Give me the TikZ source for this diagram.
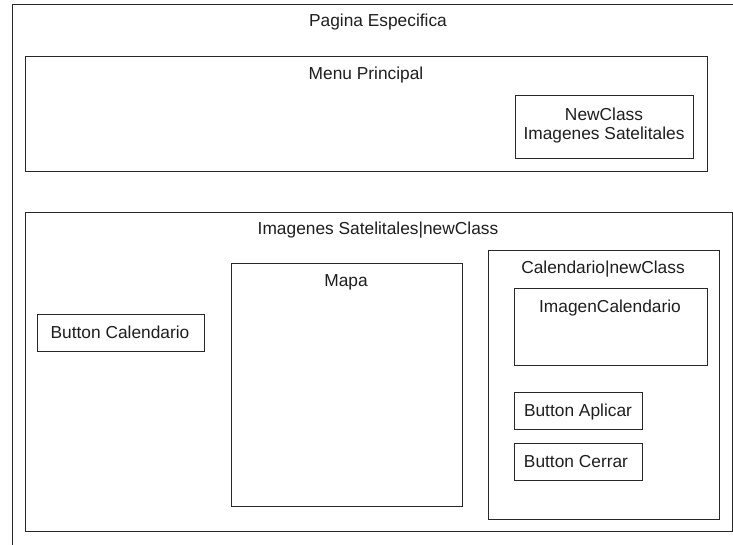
\documentclass[tikz,border=0pt]{standalone}
\usepackage{fontspec}
\setmainfont{Liberation Sans}

\begin{document}
\begin{tikzpicture}[x=0.75pt,y=0.75pt,yscale=-1,xscale=1,
        frame/.style={color={rgb, 255:red, 40; green, 40; blue, 40 },line width=0.75},
        txt/.style={anchor=base,inner sep=0.75pt,color={rgb, 255:red, 30; green, 30; blue, 30 },font=\fontsize{13}{15}\selectfont}]
        \clip (0,0) rectangle (733,545); %page runs off to the right and bottom

        %Shape: Rectangle [pagina]
        \draw [frame] (12,5) -- (760,5) -- (760,570) -- (12,570) -- cycle ;
        %Shape: Rectangle [menu]
        \draw [frame] (25,57) -- (707,57) -- (707,172) -- (25,172) -- cycle ;
        %Shape: Rectangle [newclass]
        \draw [frame] (515,96) -- (693,96) -- (693,159) -- (515,159) -- cycle ;
        %Shape: Rectangle [satelitales]
        \draw [frame] (25,213) -- (732,213) -- (732,532) -- (25,532) -- cycle ;
        %Shape: Rectangle [btn calendario]
        \draw [frame] (37,315) -- (204,315) -- (204,352) -- (37,352) -- cycle ;
        %Shape: Rectangle [mapa]
        \draw [frame] (231,264) -- (462,264) -- (462,507) -- (231,507) -- cycle ;
        %Shape: Rectangle [calendario]
        \draw [frame] (488,251) -- (719,251) -- (719,520) -- (488,520) -- cycle ;
        %Shape: Rectangle [imagen calendario]
        \draw [frame] (514,289) -- (707,289) -- (707,366) -- (514,366) -- cycle ;
        %Shape: Rectangle [btn aplicar]
        \draw [frame] (514,393) -- (642,393) -- (642,430) -- (514,430) -- cycle ;
        %Shape: Rectangle [btn cerrar]
        \draw [frame] (514,444) -- (642,444) -- (642,481) -- (514,481) -- cycle ;

        % Text Node
        \draw (378,27) node [txt] (pagina) {Pagina Especifica};
        % Text Node
        \draw (366,80) node [txt] (menu) {Menu Principal};
        % Text Node
        \draw (604,121) node [txt] (newclass) {NewClass};
        % Text Node
        \draw (604,140) node [txt] (newclassname) {Imagenes Satelitales};
        % Text Node
        \draw (378,235) node [txt] (satelitales) {Imagenes Satelitales|newClass};
        % Text Node
        \draw (120,339) node [txt] (btncal) {Button Calendario};
        % Text Node
        \draw (346,287) node [txt] (mapa) {Mapa};
        % Text Node
        \draw (603,274) node [txt] (calendario) {Calendario|newClass};
        % Text Node
        \draw (610,313) node [txt] (imagencal) {ImagenCalendario};
        % Text Node
        \draw (578,417) node [txt] (aplicar) {Button Aplicar};
        % Text Node
        \draw (576,468) node [txt] (cerrar) {Button Cerrar};

\end{tikzpicture}
\end{document}
